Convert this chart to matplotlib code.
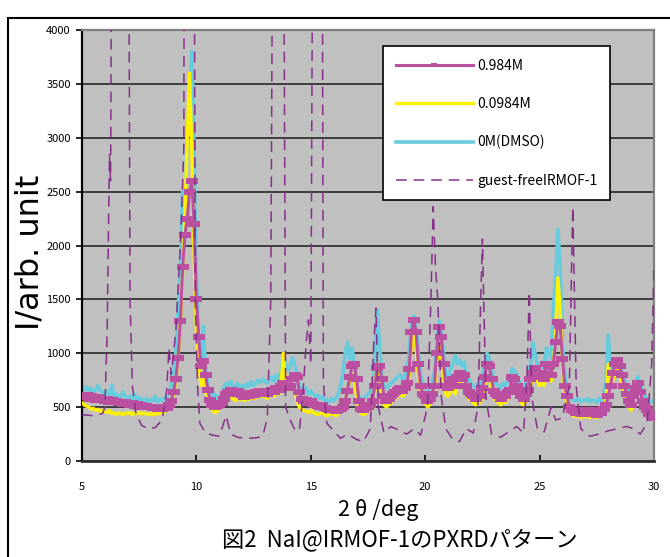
import numpy as np
import matplotlib.pyplot as plt
from matplotlib.patches import Rectangle

plt.rcParams['font.family'] = ['Noto Sans CJK JP', 'DejaVu Sans']

# 2theta grid for the three NaI@IRMOF-1 scans (0.1 deg steps, 5 .. 30)
two_theta = np.round(np.arange(5.0, 30.05, 0.1), 1)

# 0.984M
i_0984 = [
    600, 590, 610, 580, 600, 590, 570, 590, 575, 580,
    560, 575, 550, 565, 545, 555, 540, 550, 530, 545,
    530, 520, 540, 515, 525, 505, 520, 500, 515, 500,
    505, 490, 500, 480, 495, 485, 500, 490, 520, 560,
    640, 760, 960, 1300, 1800, 2100, 2250, 2500, 2600, 2200,
    1500, 1150, 880, 930, 800, 660, 570, 520, 500, 510,
    520, 540, 580, 620, 640, 660, 640, 620, 650, 630,
    610, 590, 620, 600, 630, 610, 640, 620, 650, 630,
    640, 620, 650, 660, 640, 680, 660, 700, 720, 690,
    680, 700, 760, 800, 780, 640, 580, 560, 570, 540,
    560, 530, 520, 510, 500, 520, 490, 480, 470, 480,
    470, 460, 470, 480, 500, 560, 650, 780, 880, 900,
    760, 560, 480, 470, 490, 500, 520, 560, 700, 860,
    880, 760, 600, 560, 580, 600, 620, 640, 660, 680,
    650, 680, 720, 850, 1200, 1310, 1200, 900, 700, 620,
    600, 560, 580, 620, 700, 1000, 1240, 1150, 900, 700,
    680, 720, 760, 700, 780, 820, 760, 800, 700, 640,
    620, 600, 580, 620, 600, 680, 780, 900, 880, 760,
    650, 620, 600, 580, 620, 600, 640, 660, 780, 760,
    700, 640, 600, 580, 620, 660, 760, 820, 860, 800,
    780, 820, 760, 900, 880, 800, 900, 1100, 1290, 1250,
    950, 700, 600, 500, 470, 460, 450, 470, 440, 460,
    450, 470, 440, 460, 450, 430, 470, 450, 480, 520,
    600, 700, 820, 900, 940, 880, 800, 700, 620, 560,
    520, 600, 680, 720, 640, 560, 500, 470, 440, 420,
    400,
]

# 0.0984M
i_00984 = [
    540, 520, 510, 500, 480, 490, 470, 480, 460, 470,
    460, 450, 470, 440, 450, 430, 445, 440, 430, 445,
    440, 450, 430, 445, 440, 450, 435, 445, 440, 430,
    440, 430, 445, 435, 450, 440, 460, 470, 500, 540,
    620, 740, 950, 1300, 1750, 2300, 3000, 3600, 2900, 1900,
    1200, 900, 700, 800, 650, 560, 500, 470, 450, 460,
    480, 500, 540, 570, 590, 600, 580, 560, 590, 570,
    580, 560, 590, 570, 600, 580, 600, 590, 610, 600,
    600, 580, 610, 620, 600, 640, 620, 700, 1000, 680,
    660, 700, 720, 650, 560, 500, 480, 470, 460, 450,
    470, 450, 440, 430, 440, 450, 430, 420, 430, 440,
    430, 420, 440, 460, 500, 560, 650, 750, 800, 760,
    600, 480, 440, 430, 440, 460, 480, 520, 650, 900,
    800, 640, 520, 500, 520, 540, 560, 580, 600, 620,
    600, 620, 660, 800, 1100, 1200, 1050, 800, 620, 560,
    540, 500, 520, 560, 640, 900, 1100, 1000, 780, 620,
    600, 640, 680, 620, 700, 740, 680, 720, 620, 580,
    560, 540, 520, 560, 540, 600, 700, 800, 780, 680,
    580, 560, 540, 520, 560, 540, 580, 600, 700, 680,
    640, 580, 540, 520, 560, 600, 700, 760, 800, 740,
    700, 740, 700, 820, 800, 740, 900, 1200, 1700, 1400,
    900, 620, 520, 450, 430, 420, 410, 430, 400, 420,
    410, 430, 400, 420, 410, 400, 430, 420, 460, 560,
    900, 700, 750, 820, 860, 800, 720, 640, 560, 500,
    470, 540, 620, 660, 580, 500, 450, 420, 400, 390,
    380,
]

# 0M(DMSO)
i_dmso = [
    680, 660, 690, 650, 670, 640, 660, 700, 650, 640,
    620, 650, 610, 700, 600, 620, 580, 610, 640, 590,
    580, 600, 570, 620, 560, 590, 570, 560, 580, 550,
    570, 560, 600, 550, 570, 560, 580, 600, 640, 700,
    800, 1000, 1400, 1800, 2500, 2300, 3100, 3400, 3800, 2900,
    1700, 1100, 900, 1250, 850, 700, 640, 600, 620, 580,
    600, 620, 680, 720, 700, 740, 700, 680, 720, 690,
    700, 680, 720, 690, 740, 700, 720, 750, 730, 760,
    740, 720, 760, 780, 740, 800, 760, 820, 1000, 900,
    840, 880, 960, 880, 800, 700, 660, 640, 680, 620,
    650, 620, 600, 610, 580, 600, 560, 570, 550, 580,
    560, 580, 620, 700, 800, 1000, 1100, 950, 1050, 900,
    700, 600, 560, 580, 600, 620, 650, 700, 900, 1400,
    1100, 800, 700, 680, 700, 720, 740, 760, 780, 800,
    760, 780, 840, 1000, 1250, 1350, 1250, 1000, 800, 720,
    700, 660, 680, 720, 820, 1050, 1300, 1200, 1000, 800,
    780, 840, 900, 980, 900, 940, 880, 920, 820, 760,
    720, 700, 680, 720, 700, 780, 880, 1000, 950, 860,
    760, 720, 700, 680, 720, 700, 740, 780, 860, 840,
    800, 740, 700, 680, 720, 780, 900, 1100, 1000, 900,
    880, 920, 860, 1050, 1000, 950, 1400, 1700, 2150, 1800,
    1100, 800, 700, 620, 580, 560, 560, 580, 550, 570,
    560, 580, 550, 570, 560, 540, 580, 560, 620, 720,
    1170, 850, 900, 920, 950, 900, 820, 760, 700, 660,
    620, 680, 740, 780, 720, 640, 600, 580, 560, 550,
    560,
]

# guest-free IRMOF-1 (own, uneven 2theta points)
gf_theta = [5.0, 5.5, 5.9, 6.0, 6.1, 6.2, 6.25, 6.35, 6.6, 6.8, 7.0, 7.1, 7.2, 7.35,
            7.6, 7.9, 8.2, 8.5, 8.7, 8.8, 8.9, 9.1, 9.3, 9.45, 9.6, 9.82, 9.95, 10.05,
            10.15, 10.4, 10.7, 11.0, 11.3, 11.5, 11.8, 12.2, 12.6, 12.9, 13.1, 13.25,
            13.4, 13.6, 13.8, 13.9, 14.1, 14.3, 14.5, 14.65, 14.8, 14.9, 15.0, 15.1,
            15.3, 15.5, 15.55, 15.7, 16.0, 16.3, 16.6, 17.0, 17.3, 17.6, 17.75, 17.85,
            17.95, 18.2, 18.5, 18.9, 19.2, 19.5, 19.8, 20.1, 20.25, 20.35, 20.45, 20.55,
            20.7, 20.9, 21.2, 21.5, 21.8, 22.1, 22.3, 22.5, 22.65, 22.9, 23.3, 23.7,
            24.0, 24.3, 24.45, 24.55, 24.65, 24.9, 25.2, 25.5, 25.7, 26.0, 26.3, 26.45,
            26.6, 26.8, 27.2, 27.6, 28.0, 28.4, 28.8, 29.1, 29.4, 29.7, 29.9, 30.0]
gf_int = [430, 420, 440, 500, 1200, 2850, 2600, 8000, 30000, 40000, 8000, 1500, 700, 450,
          330, 300, 310, 380, 650, 1050, 800, 1200, 2000, 2900, 20000, 12000, 1500, 700,
          350, 260, 240, 230, 420, 250, 220, 210, 215, 230, 400, 1500,
          8000, 30000, 6000, 500, 380, 290, 280, 600, 1100, 1310, 900, 6000,
          30000, 5000, 720, 350, 280, 210, 250, 200, 180, 300, 1090, 1420,
          500, 260, 320, 280, 250, 300, 240, 500, 1500, 2360, 1800, 1500,
          600, 300, 200, 180, 300, 260, 500, 2060, 600, 250, 220, 280,
          320, 260, 800, 1570, 600, 300, 270, 500, 380, 400, 700, 2360,
          690, 300, 230, 250, 280, 300, 320, 300, 250, 350, 900, 1820]

labels = ['0.984M', '0.0984M', '0M(DMSO)', 'guest-freeIRMOF-1']

# wide, flat square like the Excel marker on a dense scan
rect_marker = [(-1, -0.62), (1, -0.62), (1, 0.62), (-1, 0.62), (-1, -0.62)]

fig = plt.figure(figsize=(6.7, 5.57), dpi=100)
# outer chart frame (runs off the right and bottom edges)
fig.patches.append(Rectangle((8 / 670, -0.1), 1.2, 1.1 - 18 / 557,
                             transform=fig.transFigure, fill=False,
                             edgecolor='black', linewidth=1.5))

ax = fig.add_axes([82 / 670, 1 - 461 / 557, 572 / 670, 431 / 557])
ax.set_facecolor('#C0C0C0')

l_dmso, = ax.plot(two_theta, i_dmso, color='#66CCDD', lw=2.6, zorder=2)
l_00984, = ax.plot(two_theta, i_00984, color='#FFF200', lw=2.4, zorder=3)
l_0984, = ax.plot(two_theta, i_0984, color='#BB4FA0', lw=2.2, marker=rect_marker,
                  ms=8, mew=0, zorder=4)
l_gf, = ax.plot(gf_theta, gf_int, color='#86308A', lw=1.1,
                linestyle=(0, (7, 4.5)), zorder=5)

ax.set_xlim(5, 30)
ax.set_ylim(0, 4000)
ax.set_xticks(range(5, 31, 5))
ax.set_yticks(range(0, 4001, 500))
ax.yaxis.grid(True, color='#1a1a1a', lw=1.1)
ax.set_axisbelow(True)

ax.tick_params(axis='y', direction='out', length=4, width=1.2, labelsize=8, pad=4)
ax.tick_params(axis='x', direction='in', length=4, width=1.2, labelsize=8, pad=15)

ax.spines['left'].set_color('black')
ax.spines['left'].set_linewidth(1.6)
ax.spines['bottom'].set_color('#303030')
ax.spines['bottom'].set_linewidth(2)
for s in ['top', 'right']:
    ax.spines[s].set_color('#808080')
    ax.spines[s].set_linewidth(1.6)

fig.text(30 / 670, 1 - 252 / 557, 'I/arb. unit', rotation=90, ha='center',
         va='center', fontsize=23, family=['DejaVu Sans'])
fig.text(378 / 670, 1 - 510 / 557, '2 θ /deg', ha='center', va='center', fontsize=15.5)
fig.text(400 / 670, 1 - 540 / 557, '図2  NaI@IRMOF-1のPXRDパターン', ha='center',
         va='center', fontsize=16)

leg = ax.legend([l_0984, l_00984, l_dmso, l_gf], labels,
                loc='upper left', bbox_to_anchor=(383 / 670, 1 - 46 / 557),
                bbox_transform=fig.transFigure, fontsize=10, frameon=True,
                fancybox=False, edgecolor='black', framealpha=1,
                handlelength=5.6, handletextpad=0.3, labelspacing=1.75,
                borderpad=0.9, borderaxespad=0, markerscale=0.5)
leg.get_frame().set_linewidth(1.2)
leg.set_zorder(10)

fig.savefig('out.png', dpi=100)
